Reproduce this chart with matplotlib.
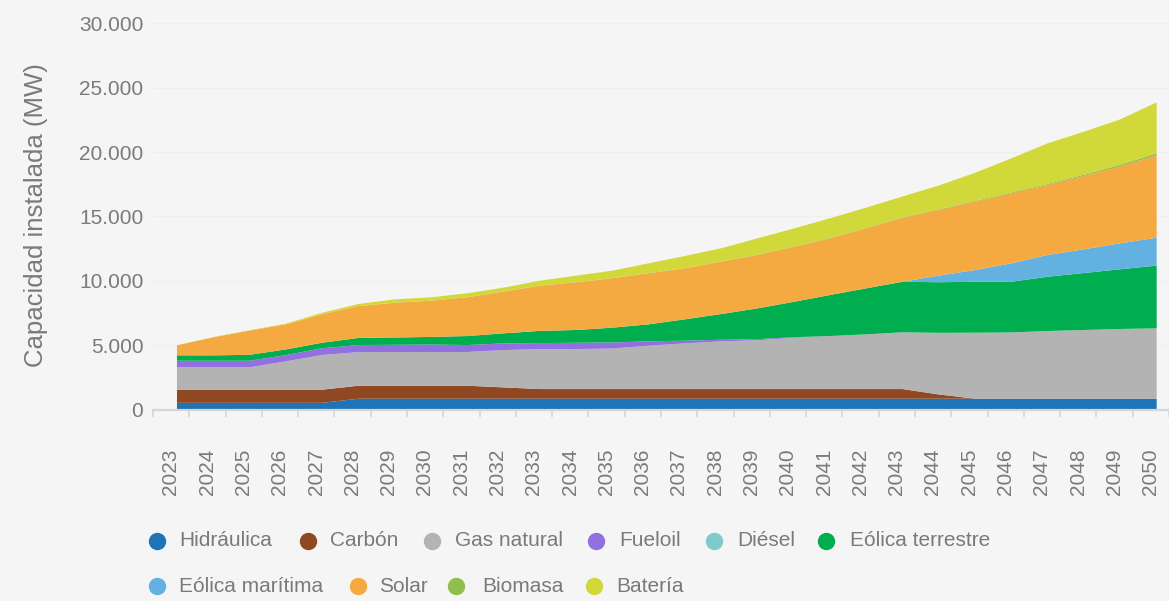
import matplotlib.pyplot as plt
import numpy as np
from matplotlib.lines import Line2D
from matplotlib.ticker import FuncFormatter

plt.rcParams['font.family'] = ['Liberation Sans', 'DejaVu Sans']

years = list(range(2023, 2051))

hidraulica = [520, 520, 520, 520, 520, 840, 840, 840, 840, 840, 840, 840, 840, 840,
              840, 840, 840, 840, 840, 840, 840, 840, 840, 840, 840, 840, 840, 840]
carbon = [1020, 1020, 1020, 1020, 1020, 1010, 1010, 1010, 1010, 880, 750, 750, 750, 750,
          750, 750, 750, 750, 750, 750, 750, 330, 0, 0, 0, 0, 0, 0]
gas_natural = [1740, 1740, 1740, 2200, 2700, 2610, 2620, 2620, 2620, 2900, 3100, 3110, 3150, 3370,
               3550, 3710, 3790, 3990, 4120, 4250, 4410, 4790, 5130, 5150, 5260, 5340, 5420, 5470]
fueloil = [510, 510, 510, 490, 520, 550, 560, 580, 540, 520, 470, 490, 470, 340,
           210, 120, 90, 40, 0, 0, 0, 0, 0, 0, 0, 0, 0, 0]
diesel = [0, 0, 0, 0, 0, 0, 0, 0, 0, 0, 0, 0, 0, 0,
          0, 0, 0, 0, 0, 0, 0, 0, 0, 0, 0, 0, 0, 0]
eolica_terrestre = [420, 420, 460, 440, 430, 550, 570, 590, 700, 780, 950, 990, 1150, 1320,
                    1660, 2000, 2390, 2750, 3190, 3580, 3930, 3930, 3960, 3940, 4220, 4430, 4640, 4870]
eolica_maritima = [0, 0, 0, 0, 0, 0, 0, 0, 0, 0, 0, 0, 0, 0,
                   0, 0, 0, 0, 0, 0, 0, 520, 910, 1430, 1690, 1840, 2020, 2170]
solar = [780, 1400, 1880, 1950, 2210, 2480, 2700, 2820, 3010, 3240, 3510, 3700, 3840, 3970,
         3960, 4070, 4150, 4270, 4400, 4660, 4970, 5100, 5310, 5440, 5440, 5700, 5980, 6410]
biomasa = [0, 0, 0, 0, 0, 0, 0, 0, 0, 10, 10, 10, 10, 15,
           15, 20, 20, 25, 30, 35, 40, 50, 60, 70, 80, 100, 120, 150]
bateria = [0, 20, 30, 50, 120, 160, 260, 260, 310, 300, 380, 510, 580, 755,
           945, 1020, 1270, 1405, 1530, 1575, 1620, 1850, 2190, 2650, 3160, 3340, 3530, 3960]

labels = ['Hidráulica', 'Carbón', 'Gas natural', 'Fueloil', 'Diésel',
          'Eólica terrestre', 'Eólica marítima', 'Solar', 'Biomasa', 'Batería']
colors = ['#1f74b8', '#8f4822', '#b3b3b3', '#9370df', '#80cacb',
          '#00ae50', '#62b1e1', '#f4aa41', '#8fbf4c', '#d1d93a']
series = [hidraulica, carbon, gas_natural, fueloil, diesel,
          eolica_terrestre, eolica_maritima, solar, biomasa, bateria]

bg = '#f5f5f5'
txt = '#7a7a7a'

fig = plt.figure(figsize=(11.69, 6.01), dpi=100, facecolor=bg)
ax = fig.add_axes([0.1309, 0.3186, 0.8691, 0.6424], facecolor=bg)

x = np.arange(len(years))
ax.stackplot(x, *series, colors=colors, linewidth=0)

ax.set_xlim(-0.66, 27.27)
ax.set_ylim(0, 30000)

# y axis
ax.set_yticks(np.arange(0, 30001, 5000))
ax.yaxis.set_major_formatter(FuncFormatter(lambda v, p: f"{int(v):,}".replace(",", ".")))
ax.tick_params(axis='y', length=0, pad=7, labelsize=15, labelcolor=txt)
ax.grid(axis='y', color='#efefef', linewidth=0.8)
ax.set_axisbelow(True)

# x axis: labels between tick marks
ax.set_xticks(x - 0.165)
ax.set_xticklabels([str(y) for y in years], rotation=90)
ax.set_xticks(np.arange(len(years) + 1) - 0.66, minor=True)
ax.tick_params(axis='x', which='major', length=0, pad=28, labelsize=15, labelcolor=txt)
ax.tick_params(axis='x', which='minor', length=5, width=1.2, color='#d6d6d6')

for s in ['top', 'right', 'left']:
    ax.spines[s].set_visible(False)
ax.spines['bottom'].set_color('#d6d6d6')
ax.spines['bottom'].set_linewidth(1.6)

fig.text(0.031, 0.642, 'Capacidad instalada (MW)', rotation=90, ha='center', va='center',
         fontsize=18.5, color=txt)

# legend drawn by hand in two rows
W, H = 1169, 601
row1 = [(157, 179), (308, 330), (432, 455), (596, 619), (714, 737), (826, 850)]
row2 = [(157, 179), (358, 379), (456, 482), (594, 616)]
spots = [(m, t, 541) for m, t in row1] + [(m, t, 586) for m, t in row2]
for (mx, tx, ry), lab, col in zip(spots, labels, colors):
    fig.add_artist(Line2D([mx / W], [1 - ry / H], transform=fig.transFigure,
                          marker='o', markersize=11.5, color=col, linestyle='none'))
    fig.text(tx / W, 1 - ry / H, lab, ha='left', va='center', fontsize=15, color=txt)

fig.savefig('out.png', dpi=100, facecolor=bg)
